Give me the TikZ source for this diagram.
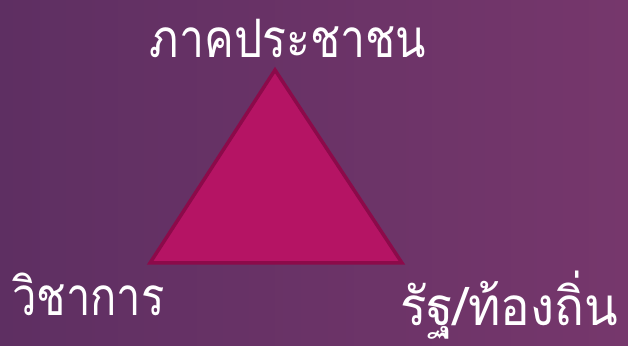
\documentclass[tikz,border=0pt]{standalone}
\usepackage{fontspec}
\newfontfamily\thaifont[Script=Thai]{Loma}
\definecolor{bgleft}{RGB}{94,47,98}
\definecolor{bgright}{RGB}{118,55,108}
\definecolor{tri}{RGB}{181,20,100}
\definecolor{triedge}{RGB}{140,10,74}
\begin{document}
\begin{tikzpicture}[x=1pt,y=1pt,
 lbl/.style={font=\thaifont\fontsize{53}{60}\selectfont,text=white,inner sep=0pt}]
 \shade[left color=bgleft,right color=bgright] (0,0) rectangle (628,345);
 \useasboundingbox (0,0) rectangle (628,345);
 \coordinate (apex) at (275,275);
 \coordinate (bl) at (150,82);
 \coordinate (br) at (402,82);
 \draw[triedge,line width=3.5pt,fill=tri,line join=miter] (apex)--(br)--(bl)--cycle;
 \node[lbl,anchor=base,xscale=0.84] (people) at (288,287){ภาคประชาชน};
 \node[lbl,anchor=base west,xscale=0.82] (academia) at (12,30){วิชาการ};
 \node[lbl,anchor=base west,xscale=0.93] (state) at (400,20){รัฐ/ท้องถิ่น};
\end{tikzpicture}
\end{document}
